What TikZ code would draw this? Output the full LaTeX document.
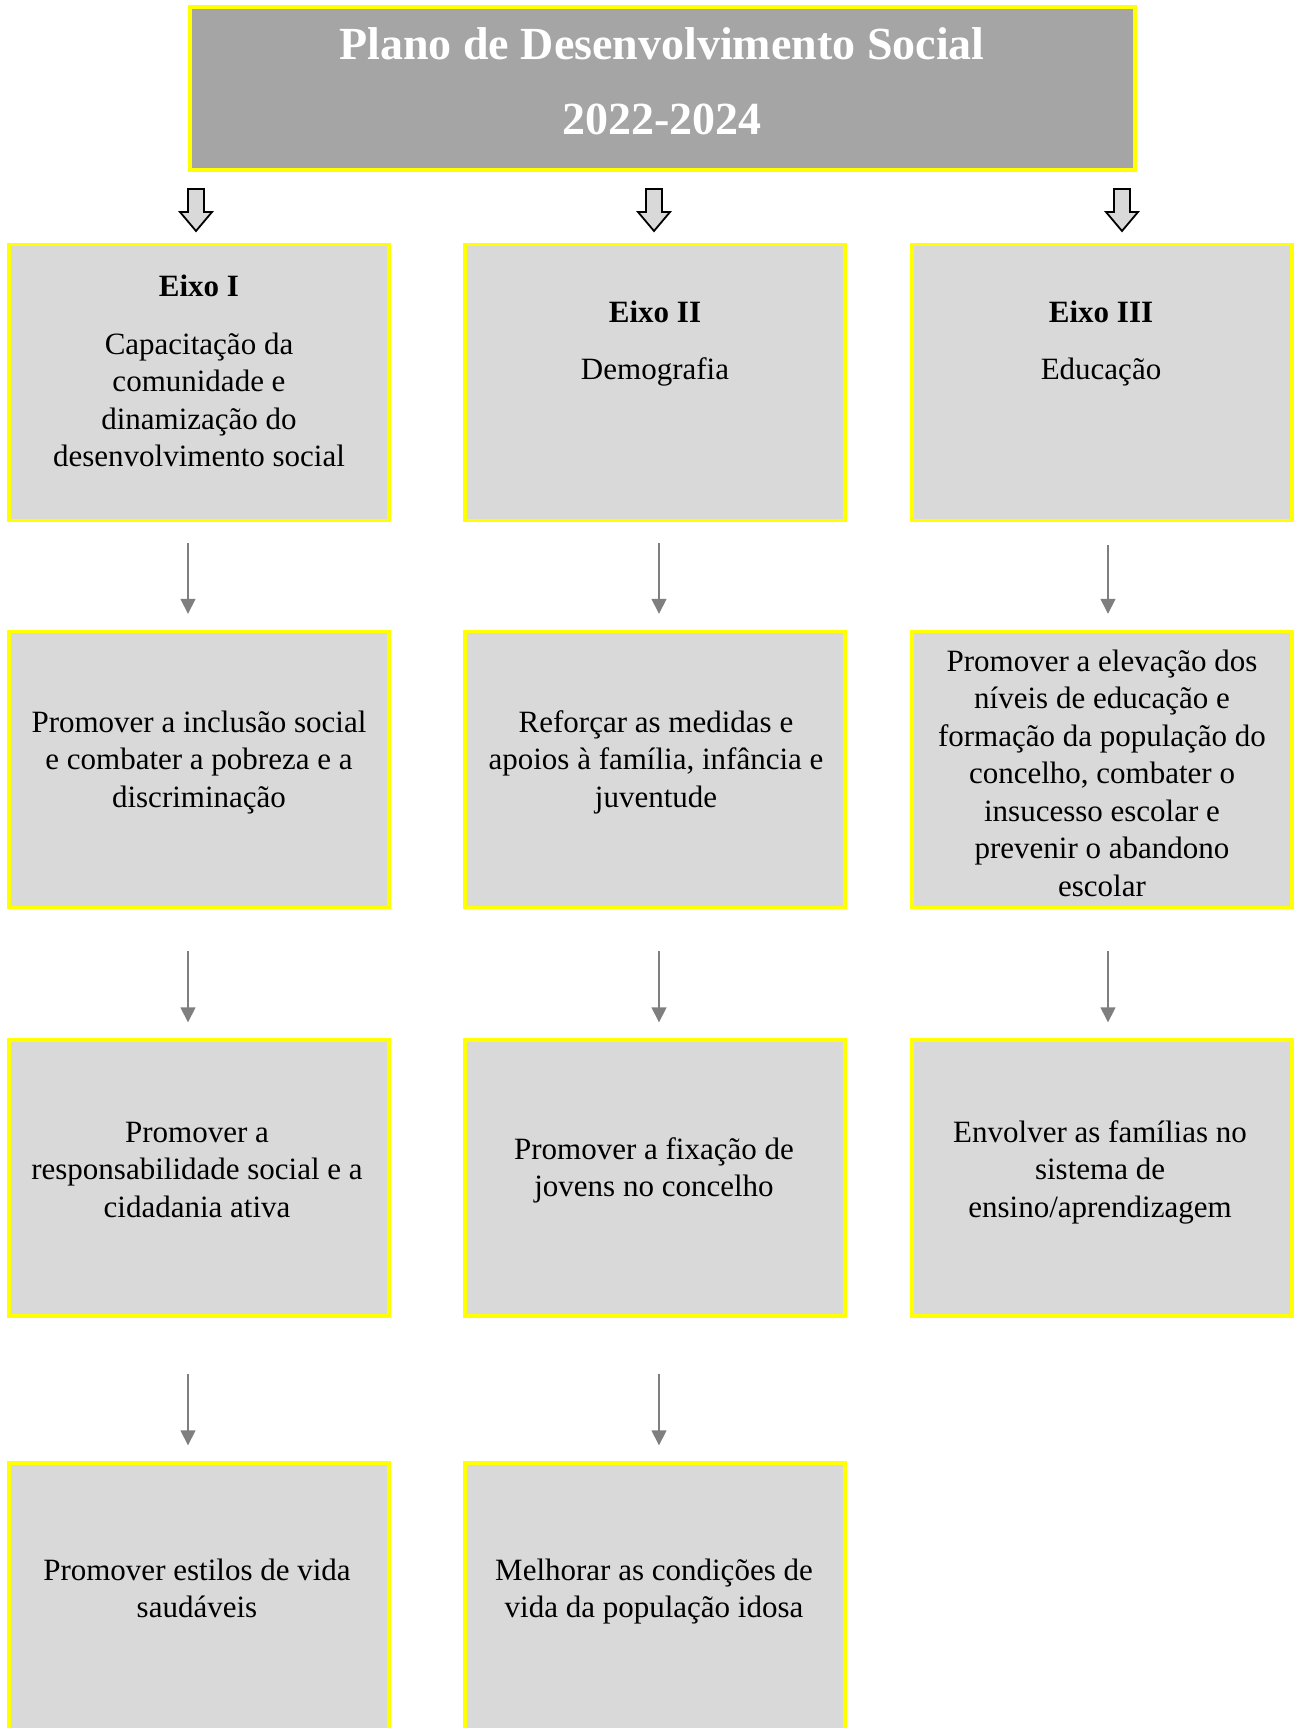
\documentclass[tikz,border=0pt]{standalone}
\usepackage{fontspec}
\setmainfont{Liberation Serif}
\usetikzlibrary{arrows.meta}
\definecolor{titlefill}{HTML}{A5A5A5}
\definecolor{boxfill}{HTML}{D9D9D9}
\definecolor{boxline}{HTML}{FFFF00}
\definecolor{linkgray}{HTML}{7F7F7F}
\tikzset{
  titlebox/.style={draw=boxline,fill=titlefill,line width=1.7pt,
    minimum width=472.5pt,minimum height=81.5pt,inner sep=0pt},
  titletxt/.style={anchor=base,align=center,text=white,inner sep=0pt,
    font=\fontsize{23}{37.5}\selectfont\bfseries},
  box/.style={draw=boxline,fill=boxfill,line width=1.7pt,
    minimum width=190pt,minimum height=138pt,inner sep=0pt},
  txt/.style={anchor=base,align=center,inner sep=0pt,
    font=\fontsize{15.5}{18.75}\selectfont},
  link/.style={draw=linkgray,line width=0.75pt,shorten >=8pt,
    -{Triangle[length=7.5pt,width=7.5pt]}},
  blockarrow/.style={draw=black,fill=boxfill,line width=0.9pt,line join=miter}
}
\begin{document}
\begin{tikzpicture}[x=0.5pt,y=-0.5pt]
  \useasboundingbox (0,0) rectangle (1295,1728);
  \clip (0,0) rectangle (1295,1728);
  % title
  \node[titlebox] (plan) at (662.5,88.5) {};
  \node[titletxt] (plantxt) at (662,135) {Plano de Desenvolvimento Social\\2022-2024};
  \foreach \x in {196,654,1122}
    \draw[blockarrow] (\x-8,189) -- (\x+8,189) -- (\x+8,212) -- (\x+16,212)
      -- (\x,231) -- (\x-16,212) -- (\x-8,212) -- cycle;
  % boxes
  \node[box] (b11) at (199,382.5) {};
  \node[box] (b12) at (655,382.5) {};
  \node[box] (b13) at (1102,382.5) {};
  \node[box] (b21) at (199,769.5) {};
  \node[box] (b22) at (655,769.5) {};
  \node[box] (b23) at (1102,769.5) {};
  \node[box] (b31) at (199,1178) {};
  \node[box] (b32) at (655,1178) {};
  \node[box] (b33) at (1102,1178) {};
  \node[box] (b41) at (199,1601) {};
  \node[box] (b42) at (655,1601) {};
  % texts (anchored on the last baseline)
  \node[txt] (t11) at (199,466.5) {\textbf{Eixo I}\\[10pt]Capacitação da\\comunidade e\\dinamização do\\desenvolvimento social};
  \node[txt] (t12) at (655,379.5) {\textbf{Eixo II}\\[10pt]Demografia};
  \node[txt] (t13) at (1101,379.5) {\textbf{Eixo III}\\[10pt]Educação};
  \node[txt] (t21) at (199,807) {Promover a inclusão social\\e combater a pobreza e a\\discriminação};
  \node[txt] (t22) at (656,807) {Reforçar as medidas e\\apoios à família, infância e\\juventude};
  \node[txt] (t23) at (1102,896) {Promover a elevação dos\\níveis de educação e\\formação da população do\\concelho, combater o\\insucesso escolar e\\prevenir o abandono\\escolar};
  \node[txt] (t31) at (197,1217) {Promover a\\responsabilidade social e a\\cidadania ativa};
  \node[txt] (t32) at (654,1196.5) {Promover a fixação de\\jovens no concelho};
  \node[txt] (t33) at (1100,1217) {Envolver as famílias no\\sistema de\\ensino/aprendizagem};
  \node[txt] (t41) at (197,1617.5) {Promover estilos de vida\\saudáveis};
  \node[txt] (t42) at (654,1617.5) {Melhorar as condições de\\vida da população idosa};
  % links
  \foreach \from/\to/\dx/\gap in {b11/b21/-5.5/10.5,b12/b22/2/10.5,b13/b23/3/11.5,
      b21/b31/-5.5/21,b22/b32/2/21,b23/b33/3/21,b31/b41/-5.5/28,b32/b42/2/28}
    \draw[link,shorten <=\gap pt] ([xshift=\dx pt]\from.south) -- ([xshift=\dx pt]\to.north);
\end{tikzpicture}
\end{document}
